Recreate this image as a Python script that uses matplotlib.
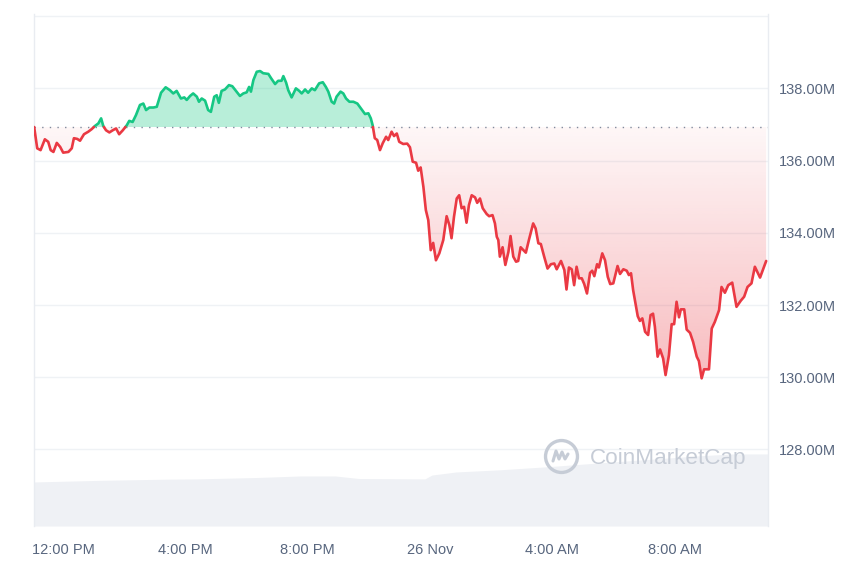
import numpy as np
import matplotlib
matplotlib.use("Agg")
import matplotlib.pyplot as plt
from matplotlib.path import Path
from matplotlib.patches import PathPatch

plt.rcParams['font.family'] = ['Liberation Sans', 'DejaVu Sans']

# hours relative to 12:00 PM (Nov 25), price in millions
hours = [-0.95, -0.85, -0.74, -0.60, -0.49, -0.41, -0.32, -0.21, -0.10, 0.00,
         0.17, 0.28, 0.35, 0.46, 0.55, 0.68, 0.82, 0.93, 1.04, 1.15,
         1.24, 1.31, 1.40, 1.51, 1.62, 1.73, 1.83, 1.95, 2.08, 2.16,
         2.27, 2.38, 2.51, 2.62, 2.71, 2.82, 2.95, 3.06, 3.20, 3.35,
         3.49, 3.60, 3.71, 3.85, 3.96, 4.04, 4.15, 4.25, 4.37, 4.44,
         4.53, 4.64, 4.74, 4.83, 4.94, 5.02, 5.09, 5.18, 5.29, 5.42,
         5.53, 5.67, 5.78, 5.89, 6.00, 6.08, 6.14, 6.22, 6.33, 6.44,
         6.54, 6.71, 6.80, 6.93, 7.03, 7.14, 7.20, 7.29, 7.36, 7.47,
         7.61, 7.72, 7.80, 7.91, 8.01, 8.13, 8.23, 8.37, 8.49, 8.59,
         8.67, 8.78, 8.86, 8.94, 9.07, 9.16, 9.25, 9.36, 9.49, 9.62,
         9.76, 9.87, 9.98, 10.06, 10.12, 10.19, 10.27, 10.36, 10.45, 10.56,
         10.63, 10.74, 10.82, 10.91, 10.99, 11.12, 11.25, 11.34, 11.43, 11.54,
         11.61, 11.69, 11.78, 11.86, 11.94, 12.02, 12.10, 12.19, 12.30, 12.43,
         12.54, 12.63, 12.70, 12.78, 12.87, 12.95, 13.03, 13.11, 13.19, 13.27,
         13.36, 13.47, 13.54, 13.63, 13.72, 13.85, 13.93, 14.04, 14.12, 14.18,
         14.23, 14.28, 14.37, 14.46, 14.56, 14.63, 14.72, 14.81, 14.88, 14.96,
         15.05, 15.13, 15.23, 15.37, 15.45, 15.54, 15.62, 15.73, 15.84, 15.95,
         16.06, 16.14, 16.28, 16.39, 16.46, 16.54, 16.63, 16.71, 16.79, 16.87,
         16.96, 17.04, 17.13, 17.23, 17.30, 17.37, 17.46, 17.52, 17.63, 17.72,
         17.81, 17.89, 17.99, 18.13, 18.21, 18.32, 18.43, 18.50, 18.57, 18.64,
         18.79, 18.86, 18.94, 19.03, 19.13, 19.21, 19.29, 19.35, 19.44, 19.52,
         19.62, 19.70, 19.81, 19.90, 19.98, 20.06, 20.14, 20.20, 20.31, 20.39,
         20.50, 20.60, 20.72, 20.79, 20.88, 20.96, 21.12, 21.21, 21.31, 21.45,
         21.53, 21.64, 21.75, 21.88, 22.02, 22.16, 22.27, 22.38, 22.51, 22.62,
         22.79, 22.99]
price = [136.93, 136.34, 136.29, 136.59, 136.52, 136.29, 136.24, 136.49, 136.38, 136.22,
         136.24, 136.34, 136.62, 136.60, 136.55, 136.73, 136.80, 136.87, 136.96, 137.03,
         137.17, 136.96, 136.84, 136.78, 136.84, 136.89, 136.73, 136.84, 136.98, 137.10,
         137.07, 137.26, 137.54, 137.58, 137.40, 137.47, 137.47, 137.49, 137.88, 138.03,
         137.95, 137.86, 137.93, 137.72, 137.75, 137.68, 137.79, 137.86, 137.77, 137.63,
         137.72, 137.66, 137.40, 137.35, 137.77, 137.81, 137.60, 137.93, 137.97, 138.09,
         138.06, 137.91, 137.79, 137.86, 137.89, 138.04, 137.91, 138.23, 138.46, 138.48,
         138.42, 138.40, 138.28, 138.12, 138.21, 138.21, 138.34, 138.16, 137.95, 137.75,
         138.00, 137.93, 137.86, 137.97, 137.88, 138.00, 137.95, 138.14, 138.17, 138.04,
         137.91, 137.63, 137.58, 137.77, 137.91, 137.86, 137.72, 137.63, 137.63, 137.58,
         137.42, 137.29, 137.31, 137.17, 136.98, 136.62, 136.57, 136.29, 136.48, 136.66,
         136.57, 136.80, 136.68, 136.75, 136.52, 136.46, 136.47, 136.37, 135.97, 135.94,
         135.72, 135.81, 135.27, 134.63, 134.35, 133.52, 133.72, 133.24, 133.43, 133.80,
         134.46, 134.21, 133.85, 134.44, 134.95, 135.04, 134.68, 134.72, 134.28, 134.77,
         135.04, 134.98, 134.83, 134.95, 134.68, 134.52, 134.46, 134.49, 134.26, 133.89,
         133.80, 133.34, 133.60, 133.11, 133.47, 133.91, 133.34, 133.20, 133.22, 133.60,
         133.52, 133.45, 133.80, 134.26, 134.12, 133.71, 133.69, 133.34, 133.01, 133.13,
         133.15, 132.99, 133.22, 132.97, 132.43, 133.04, 132.99, 132.55, 133.06, 132.74,
         132.74, 132.58, 132.32, 132.89, 132.95, 132.80, 133.13, 133.04, 133.43, 133.24,
         132.78, 132.58, 132.60, 133.08, 132.86, 132.99, 132.95, 132.83, 132.88, 132.41,
         131.69, 131.56, 131.63, 131.26, 131.17, 131.72, 131.76, 131.40, 130.57, 130.77,
         130.52, 130.06, 130.61, 131.47, 131.47, 132.09, 131.66, 131.88, 131.88, 131.32,
         131.23, 130.98, 130.57, 130.45, 129.97, 130.22, 130.22, 131.35, 131.53, 131.86,
         132.50, 132.34, 132.55, 132.62, 131.95, 132.12, 132.23, 132.50, 132.60, 133.06,
         132.76, 133.22]

vol_hours = [-0.95, 1.27, 3.43, 4.38, 6.35, 7.78, 8.89, 9.67, 11.83, 12.06,
             12.85, 14.28, 15.71, 17.61, 19.19, 20.78, 21.89, 23.05]
volume = [3.44, 3.57, 3.66, 3.68, 3.79, 3.91, 3.91, 3.71, 3.68, 3.98,
          4.22, 4.39, 4.61, 4.94, 5.21, 5.48, 5.63, 5.63]

x_ticks = [0, 4, 8, 12, 16, 20]
x_labels = ['12:00 PM', '4:00 PM', '8:00 PM', '26 Nov', '4:00 AM', '8:00 AM']
y_ticks = [128, 130, 132, 134, 136, 138, 140]

GREEN = '#16c784'
RED = '#ea3943'
TXT = '#58667e'


def split_at_base(x, y, base):
    # add crossing points so the two colours meet exactly on the base line
    xs, ys = [x[0]], [y[0]]
    for i in range(1, len(x)):
        if (y[i - 1] - base) * (y[i] - base) < 0:
            t = (base - y[i - 1]) / (y[i] - y[i - 1])
            xs.append(x[i - 1] + t * (x[i] - x[i - 1]))
            ys.append(base)
        xs.append(x[i])
        ys.append(y[i])
    return np.array(xs), np.array(ys)


fig = plt.figure(figsize=(8.6, 5.73), dpi=100)
pos = [34 / 860, 47 / 573, 734 / 860, 512 / 573]
xlim = (-0.955, 23.05)
ylim = (125.88, 140.06)

# volume underneath
vax = fig.add_axes(pos)
vax.fill_between(vol_hours, volume, 0, color='#eff1f5', lw=0)
vax.set_xlim(*xlim)
vax.set_ylim(0, 40)
vax.axis('off')

ax = fig.add_axes(pos)
ax.patch.set_alpha(0)

base = price[0]
xs, ys = split_at_base(np.array(hours), np.array(price), base)

ax.fill_between(xs, ys, base, where=ys >= base, interpolate=True,
                color=GREEN, alpha=0.3, lw=0, zorder=2)

poly = ax.fill_between(xs, ys, base, where=ys <= base, interpolate=True,
                       facecolor='none', edgecolor='none', lw=0)
clip = PathPatch(Path.make_compound_path(*poly.get_paths()),
                 transform=ax.transData, fc='none', ec='none')
ax.add_patch(clip)
grad = np.zeros((256, 1, 4))
grad[:, 0, 0] = 234 / 255
grad[:, 0, 1] = 57 / 255
grad[:, 0, 2] = 67 / 255
grad[:, 0, 3] = np.linspace(0.04, 0.34, 256)
im = ax.imshow(grad, extent=[xlim[0], xlim[1], min(price), base],
               origin='upper', aspect='auto', zorder=2)
im.set_clip_path(clip)

up = np.where(ys >= base, ys, np.nan)
down = np.where(ys <= base, ys, np.nan)
ax.plot(xs, up, color=GREEN, lw=1.9, zorder=4, solid_capstyle='round')
ax.plot(xs, down, color=RED, lw=1.9, zorder=4, solid_capstyle='round')

ax.axhline(base, color='#808a9d', lw=1.0, dashes=(1, 4.5), zorder=3)

ax.set_xlim(*xlim)
ax.set_ylim(*ylim)

ax.set_xticks(x_ticks)
ax.set_xticklabels(x_labels)
ax.set_yticks(y_ticks)
ax.set_yticklabels([f'{v:.2f}M' if v < 140 else '' for v in y_ticks])
ax.yaxis.tick_right()
ax.tick_params(axis='both', length=0, colors=TXT, labelsize=10.5)
ax.tick_params(axis='x', pad=12)
ax.tick_params(axis='y', pad=8)
ax.grid(axis='y', color='#eff2f5', lw=1)
ax.set_axisbelow(True)

for side in ['top', 'bottom']:
    ax.spines[side].set_visible(False)
for side in ['left', 'right']:
    ax.spines[side].set_color('#e9ecf1')
    ax.spines[side].set_linewidth(1)

# watermark
wm = '#c6ccd6'
ax.plot([0.718], [0.137], transform=ax.transAxes, marker='o', ms=23,
        mfc='none', mec=wm, mew=2.4, zorder=1)
cx, cy = 0.718 * 734 + 34, 573 - 456
wave = np.array([[-8, -5], [-5, 5], [-2, -3], [1, 4], [4, -3], [7, 2]])
ax.plot(cx + wave[:, 0], cy + wave[:, 1], transform=None, color=wm,
        lw=2.2, zorder=1, solid_capstyle='round')
ax.text(0.758, 0.131, 'CoinMarketCap', transform=ax.transAxes,
        fontsize=16.2, color=wm, va='center', ha='left', zorder=1)

fig.savefig('out.png', dpi=100)
